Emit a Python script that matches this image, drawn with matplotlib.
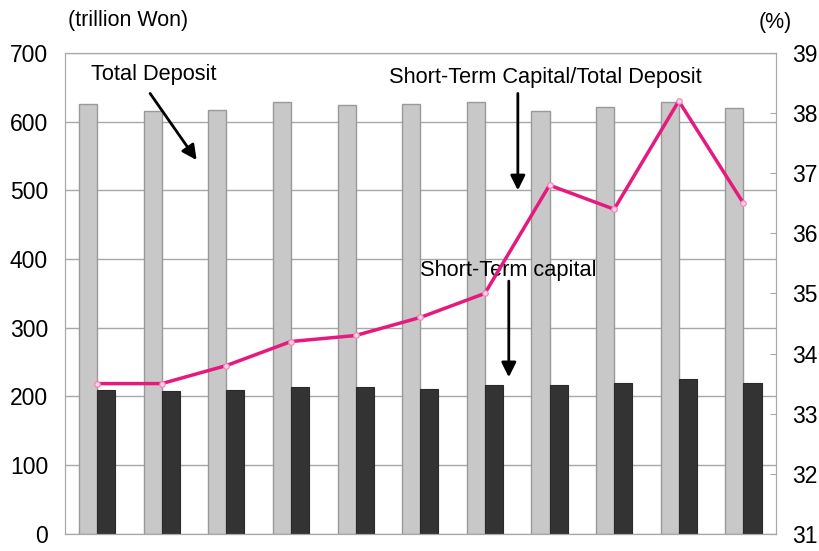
import matplotlib.pyplot as plt
import numpy as np

plt.rcParams['font.family'] = ['Liberation Sans', 'DejaVu Sans']

# values
periods = list(range(11))
total_deposit = [626, 616, 617, 628, 624, 625, 628, 616, 621, 629, 620]
short_term = [210, 208, 210, 214, 214, 211, 216, 217, 220, 225, 220]
ratio = [33.5, 33.5, 33.8, 34.2, 34.3, 34.6, 35.0, 36.8, 36.4, 38.2, 36.5]
left_ticks = [0, 100, 200, 300, 400, 500, 600, 700]
right_ticks = [31, 32, 33, 34, 35, 36, 37, 38, 39]

fig = plt.figure(figsize=(8.2, 5.51), dpi=100)
ax = fig.add_axes([0.079, 0.031, 0.867, 0.873])
x = np.arange(len(periods))
w = 0.28

ax.bar(x - w / 2, total_deposit, width=w, color='#c8c8c8', edgecolor='#999999', linewidth=1, zorder=2)
ax.bar(x + w / 2, short_term, width=w, color='#333333', edgecolor='#2a2a2a', linewidth=0.8, zorder=2)

ax.set_xlim(-0.5, len(periods) - 0.5)
ax.set_ylim(0, 700)
ax.set_yticks(left_ticks)
ax.set_xticks([])
ax.grid(axis='y', color='#a8a8a8', linewidth=1, zorder=0)
ax.tick_params(axis='y', length=0, pad=12, labelsize=16.5)
for s in ax.spines.values():
    s.set_color('#a8a8a8')

ax2 = ax.twinx()
ax2.plot(x, ratio, color='#e6197f', linewidth=2.5, marker='o', markersize=4,
         markerfacecolor='#ffd0e6', markeredgecolor='#f080b8', markeredgewidth=0.8, zorder=5)
ax2.set_ylim(31, 39)
ax2.set_yticks(right_ticks)
ax2.tick_params(axis='y', direction='in', length=4, color='#a8a8a8', pad=12, labelsize=16.5)
for s in ax2.spines.values():
    s.set_color('#a8a8a8')

arrow = dict(arrowstyle='-|>', lw=2, color='black', mutation_scale=22, shrinkA=0, shrinkB=0)
ax.text(0.88, 668, 'Total Deposit', fontsize=15.7, ha='center', va='center')
ax.annotate('', xy=(1.54, 544), xytext=(0.82, 641), arrowprops=arrow)
ax.text(6.93, 664, 'Short-Term Capital/Total Deposit', fontsize=15.7, ha='center', va='center')
ax.annotate('', xy=(6.51, 500), xytext=(6.51, 641), arrowprops=arrow)
ax.text(6.36, 384, 'Short-Term capital', fontsize=15.7, ha='center', va='center')
ax.annotate('', xy=(6.37, 228), xytext=(6.37, 368), arrowprops=arrow)

fig.text(0.083, 0.962, '(trillion Won)', fontsize=15.5, ha='left', va='center')
fig.text(0.945, 0.96, '(%)', fontsize=15.5, ha='center', va='center')

fig.savefig('out.png', dpi=100)
